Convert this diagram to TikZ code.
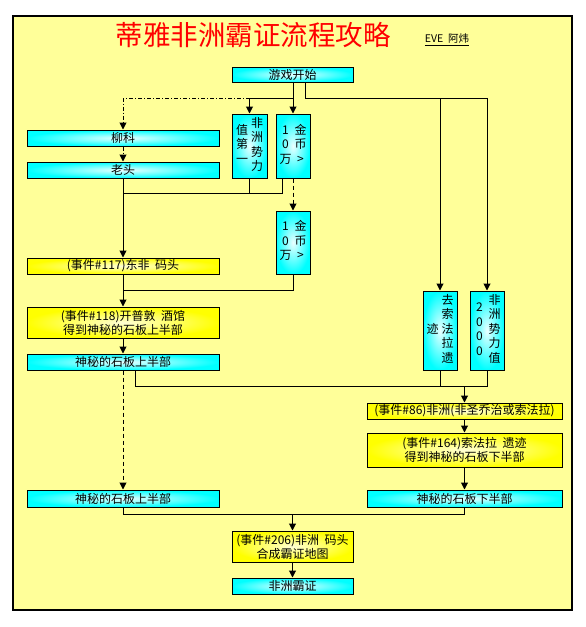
\documentclass[tikz,border=0pt]{standalone}
\usepackage{fontspec}
\setmainfont{Noto Sans CJK SC}
\usepackage{array}
\usetikzlibrary{arrows.meta}
\definecolor{panel}{RGB}{255,255,153}
\definecolor{cy}{RGB}{0,255,255}
\definecolor{yl}{RGB}{255,255,0}
\definecolor{ylight}{RGB}{255,255,215}
\definecolor{cylight}{RGB}{235,255,255}
\newcommand{\vcol}[1]{\begin{tabular}[c]{@{}w{c}{12pt}@{}}#1\end{tabular}}
\tikzset{
  box/.style={draw=black, line width=1pt, inner sep=0pt, align=center,
    font=\fontsize{12}{14}\selectfont},
  cbox/.style={box, inner color=cylight, outer color=cy},
  ybox/.style={box, inner color=ylight, outer color=yl},
  vbox/.style={cbox, font=\fontsize{12}{14.5}\selectfont},
  conn/.style={line width=1pt, black},
  arr/.style={conn, -{Triangle[width=7pt,length=7pt]}},
  dashdotline/.style={dash pattern=on 4pt off 2pt on 1pt off 2pt},
  dashline/.style={dash pattern=on 4pt off 3pt}
}
\begin{document}
\begin{tikzpicture}[x=1pt,y=-1pt]
\useasboundingbox (0,0) rectangle (586,627);
\fill[white] (0,0) rectangle (586,627);
\draw[fill=panel, line width=1.2pt] (13,16) rectangle (572,610);

% title
\node[text=red, font=\fontsize{27.5}{30}\selectfont, inner sep=0pt] (title) at (253,35) {蒂雅非洲霸证流程攻略};
\node[font=\fontsize{10.5}{12}\selectfont, inner sep=0pt] (author) at (447,40) {\underline{EVE\ \ 阿炜}};

% levels
\coordinate (r1) at (0,98);
\coordinate (r2) at (0,193);
\coordinate (r3) at (0,290);
\coordinate (r4) at (0,386);
\coordinate (r5) at (0,514);

% nodes
\node[cbox, minimum width=121pt, minimum height=15pt] (start) at (292.5,74.5) {游戏开始};
\node[cbox, minimum width=192pt, minimum height=16pt] (liuke) at (123,138) {柳科};
\node[cbox, minimum width=192pt, minimum height=16pt] (laotou) at (123,170) {老头};
\node[vbox, minimum width=35pt, minimum height=64pt] (zhi) at (249.5,146) {\vcol{值\\第\\一}\hspace{3pt}\vcol{非\\洲\\势\\力}};
\node[vbox, minimum width=34pt, minimum height=64pt] (jinbi1) at (293,146) {\vcol{1\\0\\万}\hspace{3pt}\vcol{金\\币\\>}};
\node[vbox, minimum width=34pt, minimum height=63pt] (jinbi2) at (293,242.5) {\vcol{1\\0\\万}\hspace{3pt}\vcol{金\\币\\>}};
\node[ybox, minimum width=192pt, minimum height=16pt] (e117) at (123,266) {(事件\#117)东非\ \ 码头};
\node[ybox, minimum width=192pt, minimum height=31pt] (e118) at (123,322.5) {(事件\#118)开普敦\ \ 酒馆\\得到神秘的石板上半部};
\node[cbox, minimum width=192pt, minimum height=16pt] (up1) at (123,362) {神秘的石板上半部};
\node[vbox, minimum width=34pt, minimum height=79pt] (qusuo) at (440,330.5) {\vcol{迹}\hspace{3pt}\vcol{去\\索\\法\\拉\\遗}};
\node[vbox, minimum width=34pt, minimum height=79pt] (shili) at (487,330.5) {\vcol{2\\0\\0\\0}\hspace{3pt}\vcol{非\\洲\\势\\力\\值}};
\node[ybox, minimum width=195pt, minimum height=16pt] (e86) at (464.5,411) {(事件\#86)非洲(非圣乔治或索法拉)};
\node[ybox, minimum width=195pt, minimum height=34pt] (e164) at (464.5,450) {(事件\#164)索法拉\ \ 遗迹\\得到神秘的石板下半部};
\node[cbox, minimum width=195pt, minimum height=17pt] (down) at (464.5,498.5) {神秘的石板下半部};
\node[cbox, minimum width=192pt, minimum height=17pt] (up2) at (123,498.5) {神秘的石板上半部};
\node[ybox, minimum width=121pt, minimum height=31pt] (e206) at (292.5,546.5) {(事件\#206)非洲\ \ 码头\\合成霸证地图};
\node[cbox, minimum width=121pt, minimum height=16pt] (final) at (292.5,586) {非洲霸证};

% connectors
\draw[arr] (jinbi1.north |- start.south) -- (jinbi1.north);
\draw[arr] (jinbi1 |- r1) -| (zhi.north);
\draw[arr, dashdotline] (zhi |- r1) -| (liuke.north);
\draw[conn] ([xshift=12.5pt]start.south) |- (shili |- r1);
\draw[arr] (shili |- r1) -- (shili.north);
\draw[arr] (qusuo |- r1) -- (qusuo.north);

\draw[arr, dashdotline] (liuke) -- (laotou);
\draw[arr] (laotou) -- (e117);
\draw[conn] (zhi.south) -- (zhi |- r2);
\draw[conn] ([xshift=-11pt]jinbi1.south) |- (laotou |- r2);
\draw[arr, dashline] (jinbi1) -- (jinbi2);
\draw[conn] (jinbi2.south) |- (e117 |- r3);
\draw[arr] (e117) -- (e118);
\draw[arr] (e118) -- (up1);
\draw[arr, dashline] (up1) -- (up2);

\draw[conn] ([xshift=12pt]up1.south) |- (shili |- r4) -- (shili.south);
\draw[conn] (qusuo.south) -- (qusuo |- r4);
\draw[arr] (e86 |- r4) -- (e86.north);
\draw[arr] (e86) -- (e164);
\draw[arr] (e164) -- (down);

\draw[conn] (up2.south) |- (down |- r5) -- (down.south);
\draw[arr] (e206 |- r5) -- (e206.north);
\draw[arr] (e206) -- (final);
\end{tikzpicture}
\end{document}
